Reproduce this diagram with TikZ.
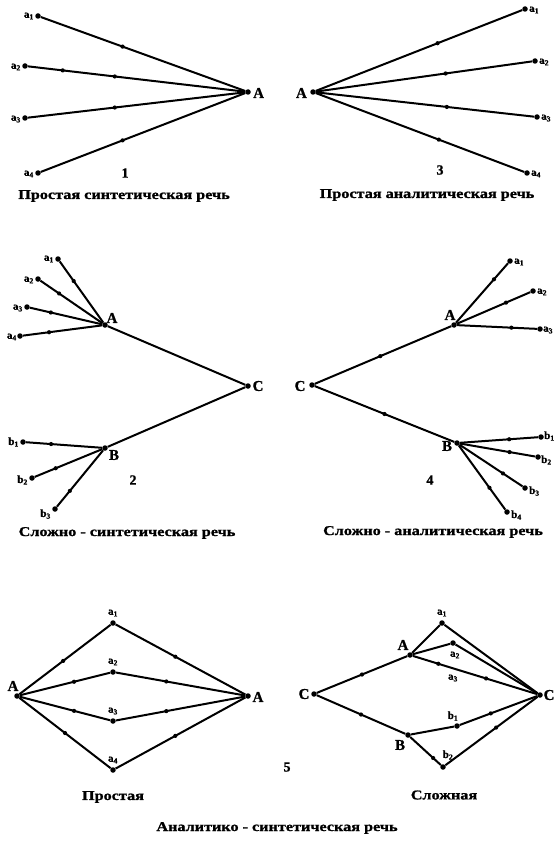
\documentclass[tikz,border=0pt]{standalone}
\usepackage{fontspec}
\setmainfont{Liberation Serif}
\newfontfamily\capfont{Liberation Serif}[FakeStretch=1.2,FakeBold=1.2]
\newfontfamily\lblfont{Liberation Serif}[FakeBold=1]

\begin{document}
\begin{tikzpicture}[x=1pt,y=-1pt,
  vtx/.style={circle,fill=black,inner sep=0pt,minimum size=5.5pt},
  md/.style={circle,fill=black,inner sep=0pt,minimum size=4.2pt},
  edge/.style={line width=2pt},
  big/.style={inner sep=0pt,font=\lblfont\bfseries\fontsize{15}{15}\selectfont},
  sml/.style={inner sep=0pt,font=\lblfont\bfseries\fontsize{11}{11}\selectfont},
  num/.style={inner sep=0pt,font=\lblfont\bfseries\fontsize{14}{14}\selectfont},
  captxt/.style={inner sep=0pt,font=\capfont\bfseries\fontsize{13.5}{13.5}\selectfont},
]
\path[use as bounding box, fill=white] (0,0) rectangle (554,845);

% ---------- 1: simple synthetic speech ----------
\node[vtx] (p1A) at (248,92) {};
\node[vtx] (p1a1) at (38,16) {};
\node[vtx] (p1a2) at (25,66) {};
\node[vtx] (p1a3) at (25,118) {};
\node[vtx] (p1a4) at (38,173) {};
\draw[edge] (p1a1) -- node[md,pos=.4] (p1d1) {} (p1A);
\draw[edge] (p1a2) -- node[md,pos=.16] (p1d2) {} node[md,pos=.4] (p1d2b) {} (p1A);
\draw[edge] (p1a3) -- node[md,pos=.4] (p1d3) {} (p1A);
\draw[edge] (p1a4) -- node[md,pos=.4] (p1d4) {} (p1A);
\node[big,anchor=west] (p1lA) at (253,93) {A};
\node[sml,anchor=east] (p1l1) at (34,16) {a\textsubscript{1}};
\node[sml,anchor=east] (p1l2) at (21,67) {a\textsubscript{2}};
\node[sml,anchor=east] (p1l3) at (21,119) {a\textsubscript{3}};
\node[sml,anchor=east] (p1l4) at (34,174) {a\textsubscript{4}};
\node[num] (p1n) at (125,173) {1};
\node[captxt] (p1c) at (124,196) {Простая синтетическая речь};

% ---------- 3: simple analytic speech ----------
\node[vtx] (p3A) at (313,92) {};
\node[vtx] (p3a1) at (525,9) {};
\node[vtx] (p3a2) at (535,61) {};
\node[vtx] (p3a3) at (537,117) {};
\node[vtx] (p3a4) at (527,173) {};
\draw[edge] (p3A) -- node[md,pos=.59] (p3d1) {} (p3a1);
\draw[edge] (p3A) -- node[md,pos=.6] (p3d2) {} (p3a2);
\draw[edge] (p3A) -- node[md,pos=.6] (p3d3) {} (p3a3);
\draw[edge] (p3A) -- node[md,pos=.59] (p3d4) {} (p3a4);
\node[big,anchor=east] (p3lA) at (307,93) {A};
\node[sml,anchor=west] (p3l1) at (529,10) {a\textsubscript{1}};
\node[sml,anchor=west] (p3l2) at (539,62) {a\textsubscript{2}};
\node[sml,anchor=west] (p3l3) at (541,118) {a\textsubscript{3}};
\node[sml,anchor=west] (p3l4) at (531,174) {a\textsubscript{4}};
\node[num] (p3n) at (440,170) {3};
\node[captxt] (p3c) at (427,195) {Простая аналитическая речь};

% ---------- 2: complex synthetic speech ----------
\node[vtx] (p2A) at (105,325) {};
\node[vtx] (p2C) at (248,386) {};
\node[vtx] (p2B) at (105,448) {};
\node[vtx] (p2a1) at (58,259) {};
\node[vtx] (p2a2) at (38,279) {};
\node[vtx] (p2a3) at (27,307) {};
\node[vtx] (p2a4) at (20,336) {};
\node[vtx] (p2b1) at (23,442) {};
\node[vtx] (p2b2) at (32,478) {};
\node[vtx] (p2b3) at (55,509) {};
\draw[edge] (p2A) -- (p2C);
\draw[edge] (p2B) -- (p2C);
\draw[edge] (p2a1) -- node[md,pos=.32] (p2d1) {} (p2A);
\draw[edge] (p2a2) -- node[md,pos=.3] (p2d2) {} (p2A);
\draw[edge] (p2a3) -- node[md,pos=.29] (p2d3) {} (p2A);
\draw[edge] (p2a4) -- node[md,pos=.33] (p2d4) {} (p2A);
\draw[edge] (p2b1) -- node[md,pos=.33] (p2e1) {} (p2B);
\draw[edge] (p2b2) -- node[md,pos=.31] (p2e2) {} (p2B);
\draw[edge] (p2b3) -- node[md,pos=.28] (p2e3) {} (p2B);
\node[big] (p2lA) at (112,318) {A};
\node[big] (p2lC) at (258,386) {C};
\node[big] (p2lB) at (114,455) {B};
\node[sml,anchor=east] (p2l1) at (54,259) {a\textsubscript{1}};
\node[sml,anchor=east] (p2l2) at (34,280) {a\textsubscript{2}};
\node[sml,anchor=east] (p2l3) at (23,308) {a\textsubscript{3}};
\node[sml,anchor=east] (p2l4) at (17,337) {a\textsubscript{4}};
\node[sml,anchor=east] (p2m1) at (19,442) {b\textsubscript{1}};
\node[sml,anchor=east] (p2m2) at (28,480) {b\textsubscript{2}};
\node[sml,anchor=east] (p2m3) at (51,514) {b\textsubscript{3}};
\node[num] (p2n) at (133,480) {2};
\node[captxt] (p2c) at (127,533) {Сложно - синтетическая  речь};

% ---------- 4: complex analytic speech ----------
\node[vtx] (p4C) at (312,385) {};
\node[vtx] (p4A) at (454,325) {};
\node[vtx] (p4B) at (457,443) {};
\node[vtx] (p4a1) at (510,261) {};
\node[vtx] (p4a2) at (533,291) {};
\node[vtx] (p4a3) at (540,329) {};
\node[vtx] (p4b1) at (541,437) {};
\node[vtx] (p4b2) at (538,457) {};
\node[vtx] (p4b3) at (525,488) {};
\node[vtx] (p4b4) at (507,512) {};
\draw[edge] (p4C) -- node[md,pos=.48] (p4dA) {} (p4A);
\draw[edge] (p4C) -- node[md,pos=.5] (p4dB) {} (p4B);
\draw[edge] (p4A) -- node[md,pos=.73] (p4d1) {} (p4a1);
\draw[edge] (p4A) -- node[md,pos=.67] (p4d2) {} (p4a2);
\draw[edge] (p4A) -- node[md,pos=.68] (p4d3) {} (p4a3);
\draw[edge] (p4B) -- node[md,pos=.63] (p4e1) {} (p4b1);
\draw[edge] (p4B) -- node[md,pos=.66] (p4e2) {} (p4b2);
\draw[edge] (p4B) -- node[md,pos=.69] (p4e3) {} (p4b3);
\draw[edge] (p4B) -- node[md,pos=.66] (p4e4) {} (p4b4);
\node[big] (p4lC) at (300,386) {C};
\node[big] (p4lA) at (450,315) {A};
\node[big] (p4lB) at (447,446) {B};
\node[sml,anchor=west] (p4l1) at (514,262) {a\textsubscript{1}};
\node[sml,anchor=west] (p4l2) at (537,292) {a\textsubscript{2}};
\node[sml,anchor=west] (p4l3) at (543,330) {a\textsubscript{3}};
\node[sml,anchor=west] (p4m1) at (544,436) {b\textsubscript{1}};
\node[sml,anchor=west] (p4m2) at (541,460) {b\textsubscript{2}};
\node[sml,anchor=west] (p4m3) at (529,491) {b\textsubscript{3}};
\node[sml,anchor=west] (p4m4) at (511,515) {b\textsubscript{4}};
\node[num] (p4n) at (430,480) {4};
\node[captxt] (p4c) at (433,532) {Сложно - аналитическая  речь};

% ---------- 5: analytic-synthetic speech, simple ----------
\node[vtx] (p5AL) at (17,696) {};
\node[vtx] (p5AR) at (248,696) {};
\node[vtx] (p5a1) at (113,623) {};
\node[vtx] (p5a2) at (113,672) {};
\node[vtx] (p5a3) at (113,721) {};
\node[vtx] (p5a4) at (113,770) {};
\draw[edge] (p5AL) -- node[md,pos=.48] (p5d1) {} (p5a1) -- node[md,pos=.46] (p5f1) {} (p5AR);
\draw[edge] (p5AL) -- node[md,pos=.6] (p5d2) {} (p5a2) -- node[md,pos=.39] (p5f2) {} (p5AR);
\draw[edge] (p5AL) -- node[md,pos=.6] (p5d3) {} (p5a3) -- node[md,pos=.39] (p5f3) {} (p5AR);
\draw[edge] (p5AL) -- node[md,pos=.5] (p5d4) {} (p5a4) -- node[md,pos=.46] (p5f4) {} (p5AR);
\node[big] (p5lAL) at (13,686) {A};
\node[big] (p5lAR) at (258,697) {A};
\node[sml] (p5l1) at (113,613) {a\textsubscript{1}};
\node[sml] (p5l2) at (113,662) {a\textsubscript{2}};
\node[sml] (p5l3) at (113,711) {a\textsubscript{3}};
\node[sml] (p5l4) at (113,760) {a\textsubscript{4}};
\node[captxt] (p5c1) at (113,797) {Простая};

% ---------- 5: analytic-synthetic speech, complex ----------
\node[vtx] (q5CL) at (314,694) {};
\node[vtx] (q5CR) at (540,695) {};
\node[vtx] (q5A) at (410,655) {};
\node[vtx] (q5B) at (408,735) {};
\node[vtx] (q5a1) at (442,623) {};
\node[vtx] (q5a2) at (453,643) {};
\coordinate (q5a3) at (452,668);
\node[vtx] (q5b1) at (457,726) {};
\node[vtx] (q5b2) at (443,767) {};
\draw[edge] (q5CL) -- node[md,pos=.5] (q5dA) {} (q5A);
\draw[edge] (q5CL) -- node[md,pos=.5] (q5dB) {} (q5B);
\draw[edge] (q5A) -- (q5a1) -- (q5CR);
\draw[edge] (q5A) -- (q5a2) -- (q5CR);
\draw[edge] (q5A) -- node[md,pos=.65] (q5d3) {} (q5a3) -- node[md,pos=.4] (q5f3) {} (q5CR);
\draw[edge] (q5B) -- (q5b1) -- node[md,pos=.4] (q5g1) {} (q5CR);
\draw[edge] (q5B) -- node[md,pos=.75] (q5h2) {} (q5b2) -- node[md,pos=.55] (q5g2) {} (q5CR);
\node[big] (q5lCL) at (304,694) {C};
\node[big] (q5lCR) at (549,695) {C};
\node[big] (q5lA) at (403,645) {A};
\node[big] (q5lB) at (400,745) {B};
\node[sml] (q5l1) at (442,613) {a\textsubscript{1}};
\node[sml] (q5l2) at (455,655) {a\textsubscript{2}};
\node[sml] (q5l3) at (453,678) {a\textsubscript{3}};
\node[sml] (q5m1) at (453,716) {b\textsubscript{1}};
\node[sml] (q5m2) at (448,755) {b\textsubscript{2}};
\node[num] (q5n) at (287,767) {5};
\node[captxt] (q5c2) at (444,795) {Сложная};

\node[captxt] (q5c) at (277,828) {Аналитико - синтетическая  речь};
\end{tikzpicture}
\end{document}
